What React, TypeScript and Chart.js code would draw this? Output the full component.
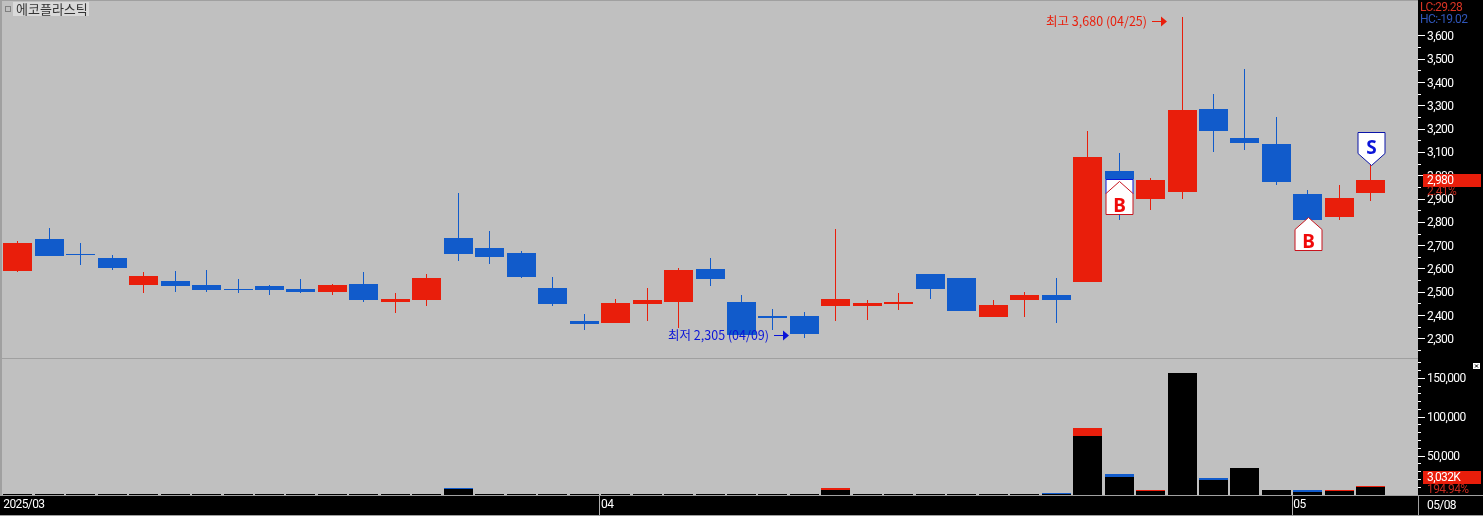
import React, { useEffect, useRef } from "react";
import { Chart, registerables } from "chart.js";

Chart.register(...registerables);

const dates = [
  "03/05","03/06","03/07","03/10","03/11","03/12","03/13","03/14","03/17","03/18","03/19",
  "03/20","03/21","03/24","03/25","03/26","03/27","03/28","03/31",
  "04/01","04/02","04/03","04/04","04/07","04/08","04/09","04/10","04/11","04/14","04/15",
  "04/16","04/17","04/18","04/21","04/22","04/23","04/24","04/25","04/28","04/29","04/30",
  "05/02","05/07","05/08","",
];
const opens = [2590,2730,2665,2645,2530,2550,2530,2515,2525,2515,2500,2535,2460,2465,2735,2690,2670,2520,2375,2370,2450,2460,2600,2460,2400,2400,2440,2440,2450,2580,2560,2395,2465,2490,2545,3020,2900,2930,3285,3160,3135,2920,2825,2925];
const closes = [2710,2655,2660,2605,2570,2525,2510,2510,2510,2500,2530,2465,2470,2560,2665,2650,2565,2450,2365,2455,2465,2595,2555,2315,2390,2320,2470,2455,2460,2515,2420,2445,2490,2465,3080,2985,2980,3280,3190,3140,2975,2810,2905,2980];
const highs = [2720,2775,2710,2660,2585,2590,2595,2555,2530,2555,2535,2585,2495,2580,2925,2765,2676,2565,2405,2470,2520,2605,2645,2490,2430,2415,2770,2465,2495,2580,2560,2465,2500,2560,3190,3098,2990,3680,3350,3460,3250,2940,2960,3045];
const lows = [2585,2655,2615,2595,2495,2500,2500,2495,2490,2495,2490,2460,2410,2440,2635,2620,2562,2440,2340,2370,2375,2345,2525,2315,2340,2305,2375,2380,2425,2470,2420,2395,2395,2370,2545,2811,2855,2900,3100,3110,2960,2810,2810,2890];
const volumeTotal = [600,1800,700,700,600,700,700,700,600,700,700,600,700,700,9000,1700,1500,1700,800,800,1500,1500,1500,1500,1500,800,9000,1500,800,1500,800,800,800,2500,85900,26900,6400,156400,21400,34600,6400,6000,6400,11100];
const volumeBlack = [600,600,700,700,600,700,700,700,600,700,700,600,700,700,7700,1700,1500,800,800,800,600,1500,1500,1500,600,800,6500,600,800,1500,800,800,800,800,75600,23000,5100,156400,19600,34600,6400,4200,4700,9900];
const volumeAxisTicks = [0,10000,20000,30000,40000,50000,60000,70000,80000,90000,100000,110000,120000,130000,140000,150000,160000,170000];
const timeTickLabels: Record<number, string> = { 0: "2025/03", 19: "04", 41: "05" };
const lastDateLabel = "05/08";
const title = "에코플라스틱";
const highNote = "최고 3,680 (04/25)";
const lowNote = "최저 2,305 (04/09)";
const highNoteIndex = 37;
const lowNoteIndex = 25;
const highNoteValue = 3680;
const lowNoteValue = 2305;
const markers = [
  { kind: "B", index: 35, value: 2978 },
  { kind: "B", index: 41, value: 2823 },
  { kind: "S", index: 43, value: 3046 },
];

const RED = "#E91E0B";
const BLUE = "#115BCB";
const GRAY_BG = "#C0C0C0";
const LINE = "#A0A0A0";
const AXIS_FONT = 'Roboto, sans-serif';
const AXIS_SPACING = "-0.6px";
const KR_FONT = '"Noto Sans CJK KR", sans-serif';
const W = 1483;
const PRICE_H = 358;
const VOL_H = 158;
const candleColors = closes.map((c, i) => (c >= opens[i] ? RED : BLUE));

const snapBars = (chart: any) => {
  chart.data.datasets.forEach((_: any, di: number) => {
    chart.getDatasetMeta(di).data.forEach((el: any) => {
      if (typeof el.x !== "number") return;
      el.x = Math.round(el.x - 0.5) + 0.5;
      let top = Math.round(el.y);
      let base = Math.round(el.base);
      if (top === base) top = base - 1;
      el.y = top;
      el.base = base;
    });
  });
};

const noScalePadding = (s: any) => {
  s.paddingTop = 0;
  s.paddingBottom = 0;
  s.paddingLeft = 0;
  s.paddingRight = 0;
};

const rightAxisTicks = (major: (v: number) => boolean) => ({
  color: "#FFFFFF",
  font: { family: AXIS_FONT, size: 12 },
  padding: 2,
  labelOffset: 1,
  autoSkip: false,
  maxRotation: 0,
  callback: (v: any) => (major(Number(v)) && Number(v) > 0 ? Number(v).toLocaleString("en-US") : ""),
});

const text = (ctx: any, s: string, x: number, y: number, color: string, font: string, align = "left", spacing = "0px") => {
  ctx.fillStyle = color;
  ctx.font = font;
  ctx.letterSpacing = spacing;
  ctx.textAlign = align;
  ctx.textBaseline = "middle";
  ctx.fillText(s, x, y);
};
const axisText = (ctx: any, s: string, x: number, y: number, color: string) =>
  text(ctx, s, x, y, color, `12px ${AXIS_FONT}`, "left", AXIS_SPACING);

const paintBackground = (chart: any) => {
  const { ctx, chartArea: a } = chart;
  ctx.save();
  ctx.fillStyle = "#000";
  ctx.fillRect(0, 0, chart.width, chart.height);
  ctx.fillStyle = GRAY_BG;
  ctx.fillRect(a.left, a.top, a.right - a.left, a.bottom - a.top);
  ctx.restore();
  ctx.letterSpacing = AXIS_SPACING;
};

const pricePlugin = {
  id: "pricePane",
  beforeDraw: paintBackground,
  beforeDatasetsDraw: snapBars,
  afterDraw(chart: any) {
    const { ctx, chartArea: a, scales } = chart;
    const x = scales.x;
    const y = scales.y;
    ctx.save();
    ctx.fillStyle = LINE;
    ctx.fillRect(0, 0, 2, chart.height);
    ctx.fillRect(0, 0, a.right, 1);

    // title
    ctx.fillStyle = "#D9D9D9";
    ctx.fillRect(13, 2, 76, 14);
    ctx.strokeStyle = "#808080";
    ctx.lineWidth = 1;
    ctx.strokeRect(5.5, 6.5, 5, 5);
    text(ctx, title, 16, 9, "#333333", `13px ${KR_FONT}`);

    // high / low notes
    const note = (s: string, idx: number, value: number, color: string, dy: number) => {
      const tip = Math.round(x.getPixelForValue(idx)) - 15;
      const py = Math.round(y.getPixelForValue(value)) + dy;
      text(ctx, s, tip - 20, py, color, `12.5px ${KR_FONT}`, "right");
      ctx.fillStyle = color;
      ctx.fillRect(tip - 15, py, 11, 1);
      ctx.beginPath();
      ctx.moveTo(tip, py + 0.5);
      ctx.lineTo(tip - 6, py - 4.5);
      ctx.lineTo(tip - 6, py + 5.5);
      ctx.closePath();
      ctx.fill();
    };
    note(highNote, highNoteIndex, highNoteValue, RED, 4);
    note(lowNote, lowNoteIndex, lowNoteValue, "#0A14D8", -3);

    // trade markers
    const half = 13.5;
    markers.forEach((m) => {
      const cx = Math.round(x.getPixelForValue(m.index)) + 0.5;
      const ap = Math.round(y.getPixelForValue(m.value)) + 0.5;
      const isBuy = m.kind === "B";
      const color = isBuy ? "#F00A0A" : "#0A14D8";
      const dir = isBuy ? 1 : -1;
      if (m.index === 35) {
        ctx.fillStyle = "#FFFFFF";
        ctx.strokeStyle = "#0A14D8";
        ctx.fillRect(cx - half, ap - 2, half * 2, 14);
        ctx.strokeRect(cx - half, ap - 2, half * 2, 14);
      }
      ctx.beginPath();
      ctx.moveTo(cx, ap);
      ctx.lineTo(cx + half, ap + dir * 12);
      ctx.lineTo(cx + half, ap + dir * 33);
      ctx.lineTo(cx - half, ap + dir * 33);
      ctx.lineTo(cx - half, ap + dir * 12);
      ctx.closePath();
      ctx.fillStyle = "#FFFFFF";
      ctx.fill();
      ctx.strokeStyle = isBuy ? "#C8141E" : "#0A14A8";
      ctx.lineWidth = 1;
      ctx.stroke();
      text(ctx, m.kind, cx, ap + (isBuy ? 25 : -17), color, `bold 19px "Noto Sans", sans-serif`, "center");
    });

    // top-right indicators
    ctx.fillStyle = "#000";
    ctx.fillRect(a.right, 0, 65, 27);
    axisText(ctx, "LC:29.28", 1420, 8, "#D83324");
    axisText(ctx, "HC:-19.02", 1420, 20, "#2F55B8");

    // last price badge
    const lastY = Math.round(y.getPixelForValue(closes[closes.length - 1]));
    ctx.fillStyle = RED;
    ctx.fillRect(1423, lastY - 6, 58, 13);
    axisText(ctx, "2,980", 1427, lastY + 0.5, "#FFFFFF");
    axisText(ctx, "2.41%", 1427, lastY + 12, "#C42A1E");
    ctx.restore();
  },
};

const volumePlugin = {
  id: "volumePane",
  beforeDraw: paintBackground,
  beforeDatasetsDraw: snapBars,
  afterDraw(chart: any) {
    const { ctx, chartArea: a } = chart;
    ctx.save();
    ctx.fillStyle = LINE;
    ctx.fillRect(0, 0, a.right, 1);
    ctx.fillRect(0, 0, 2, a.bottom);
    ctx.fillRect(0, a.bottom, chart.width, 1);
    ctx.fillRect(0, chart.height - 1, chart.width, 1);
    ctx.fillRect(a.right, a.bottom, 1, chart.height - a.bottom);
    axisText(ctx, lastDateLabel, 1427, a.bottom + 11, "#FFFFFF");

    // close box
    ctx.fillStyle = "#FFFFFF";
    ctx.fillRect(1473, 5, 7, 6);
    ctx.strokeStyle = "#000";
    ctx.beginPath();
    ctx.moveTo(1475, 6.5);
    ctx.lineTo(1478, 9.5);
    ctx.moveTo(1478, 6.5);
    ctx.lineTo(1475, 9.5);
    ctx.stroke();

    // last volume badge
    ctx.fillStyle = RED;
    ctx.fillRect(1423, 113, 58, 13);
    axisText(ctx, "3,032K", 1427, 119.5, "#FFFFFF");
    axisText(ctx, "194.94%", 1427, 132, "#C42A1E");
    ctx.restore();
  },
};

function priceConfig(): any {
  return {
    type: "bar",
    data: {
      labels: dates,
      datasets: [
        {
          label: "고저",
          data: lows.map((l, i) => [l, highs[i]]),
          backgroundColor: candleColors,
          barThickness: 1,
          borderWidth: 0,
          inflateAmount: 0,
          grouped: false,
          order: 2,
        },
        {
          label: "시종",
          data: opens.map((o, i) => [o, closes[i]]),
          backgroundColor: candleColors,
          barThickness: 29,
          borderWidth: 0,
          inflateAmount: 0,
          grouped: false,
          order: 1,
        },
      ],
    },
    options: {
      responsive: false,
      animation: false,
      events: [],
      layout: { autoPadding: false, padding: { left: 2, top: 0, right: 0, bottom: 0 } },
      plugins: { legend: { display: false }, tooltip: { enabled: false } },
      scales: {
        x: { display: false, offset: true },
        y: {
          position: "right",
          min: 2218,
          max: 3754,
          border: { display: false },
          afterFit: (s: any) => { s.width = 65; noScalePadding(s); },
          grid: {
            drawOnChartArea: false,
            tickLength: 7,
            tickColor: "#FFFFFF",
            tickBorderDash: (c: any) => (c.tick && c.tick.value % 100 !== 0 ? [3, 20] : []),
          },
          ticks: { ...rightAxisTicks((v) => v % 100 === 0), stepSize: 50, includeBounds: false },
        },
      },
    },
    plugins: [pricePlugin],
  };
}

function volumeConfig(): any {
  return {
    type: "bar",
    data: {
      labels: dates,
      datasets: [
        {
          label: "거래량",
          data: volumeTotal,
          backgroundColor: candleColors,
          barThickness: 29,
          borderWidth: 0,
          inflateAmount: 0,
          grouped: false,
          order: 2,
        },
        {
          label: "거래량(흑)",
          data: volumeBlack,
          backgroundColor: "#000000",
          barThickness: 29,
          borderWidth: 0,
          inflateAmount: 0,
          grouped: false,
          order: 1,
        },
      ],
    },
    options: {
      responsive: false,
      animation: false,
      events: [],
      layout: { autoPadding: false, padding: { left: 2, top: 1, right: 0, bottom: 0 } },
      plugins: { legend: { display: false }, tooltip: { enabled: false } },
      scales: {
        x: {
          offset: true,
          border: { display: false },
          afterFit: (s: any) => { s.height = 21; noScalePadding(s); },
          grid: {
            offset: true,
            drawOnChartArea: false,
            tickLength: 20,
            tickColor: (c: any) => (c.index === 19 || c.index === 41 ? "#B0B0B0" : "rgba(0,0,0,0)"),
          },
          ticks: {
            color: "#FFFFFF",
            font: { family: AXIS_FONT, size: 12 },
            autoSkip: false,
            maxRotation: 0,
            align: "start",
            labelOffset: -14.5,
            padding: -17,
            callback: (_: any, i: number) => timeTickLabels[i] ?? "",
          },
        },
        y: {
          position: "right",
          min: 0,
          max: 174800,
          border: { display: false },
          afterFit: (s: any) => { s.width = 65; noScalePadding(s); },
          afterBuildTicks: (s: any) => { s.ticks = volumeAxisTicks.map((value) => ({ value })); },
          grid: {
            drawOnChartArea: false,
            tickLength: 7,
            tickColor: "#FFFFFF",
            tickBorderDash: (c: any) => (c.tick && c.tick.value % 50000 !== 0 ? [3, 20] : []),
          },
          ticks: { ...rightAxisTicks((v) => v % 50000 === 0), includeBounds: false },
        },
      },
    },
    plugins: [volumePlugin],
  };
}

export default function App() {
  const priceRef = useRef<HTMLCanvasElement>(null);
  const volRef = useRef<HTMLCanvasElement>(null);

  useEffect(() => {
    const a = new Chart(priceRef.current as any, priceConfig());
    const b = new Chart(volRef.current as any, volumeConfig());
    return () => {
      a.destroy();
      b.destroy();
    };
  }, []);

  return (
    <div style={{ position: "fixed", left: 0, top: 0, width: W, height: 516, background: "#000", overflow: "hidden" }}>
      <canvas ref={priceRef} width={W} height={PRICE_H} style={{ position: "absolute", left: 0, top: 0, width: W, height: PRICE_H }} />
      <canvas ref={volRef} width={W} height={VOL_H} style={{ position: "absolute", left: 0, top: PRICE_H, width: W, height: VOL_H }} />
    </div>
  );
}
